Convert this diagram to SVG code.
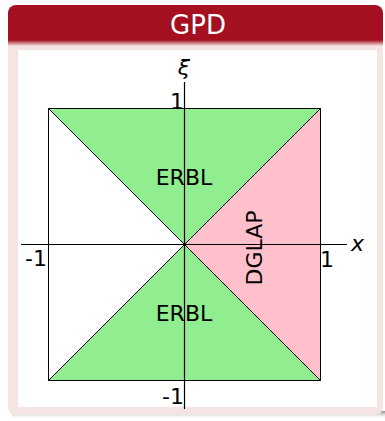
<svg xmlns="http://www.w3.org/2000/svg" width="385" height="421" viewBox="0 0 385 421">
<defs>
<linearGradient id="hdrfade" x1="0" y1="0" x2="0" y2="1">
<stop offset="0" stop-color="#a51020"/>
<stop offset="1" stop-color="#f4e4e4"/>
</linearGradient>
<linearGradient id="shadow" x1="0" y1="0" x2="0" y2="1">
<stop offset="0" stop-color="#888"/>
<stop offset="1" stop-color="#fff" stop-opacity="0"/>
</linearGradient>
</defs>
<style>
text{font-family:"DejaVu Sans","Liberation Sans",sans-serif;fill:#000;}
.lbl{font-size:22px;}
.ax{stroke:#000;stroke-width:1.2;fill:none;}
.edge{stroke:#000;stroke-width:1;}
</style>
<rect width="385" height="421" fill="#fff"/>
<g id="block">
<rect x="12" y="411" width="373" height="8" fill="url(#shadow)"/>
<path d="M8,42 H383 V407 a8,8 0 0 1 -8,8 H16 a8,8 0 0 1 -8,-8 Z" fill="#f4e4e4"/>
<path d="M8,42 V13 a8,8 0 0 1 8,-8 H375 a8,8 0 0 1 8,8 V42 Z" fill="#a51020"/>
<rect x="8" y="40" width="375" height="6" fill="url(#hdrfade)"/>
<text x="198" y="34" font-size="26" style="fill:#fff" text-anchor="middle">GPD</text>
<rect x="18" y="50" width="359" height="357" fill="#fff"/>
</g>
<g id="regions">
<polygon id="erbl-top" points="48.5,108.5 320.5,108.5 184.5,244.5" fill="#90ee90" class="edge"/>
<polygon id="erbl-bottom" points="48.5,380.5 320.5,380.5 184.5,244.5" fill="#90ee90" class="edge"/>
<polygon id="dglap" points="320.5,108.5 320.5,380.5 184.5,244.5" fill="#ffc0cb" class="edge"/>
<polygon id="square" points="48.5,108.5 320.5,108.5 320.5,380.5 48.5,380.5" fill="none" class="edge"/>
</g>
<g id="axes">
<line class="ax" x1="21" y1="244.5" x2="347" y2="244.5"/>
<line class="ax" x1="184.5" y1="82" x2="184.5" y2="409"/>
</g>
<g id="labels">
<text class="lbl" x="184" y="75" text-anchor="middle" font-style="italic" font-size="24">ξ</text>
<text class="lbl" x="184" y="109" text-anchor="end">1</text>
<text class="lbl" x="47" y="266" text-anchor="end">-1</text>
<text class="lbl" x="320" y="267">1</text>
<text class="lbl" x="351" y="251" font-style="italic">x</text>
<text class="lbl" x="184" y="404" text-anchor="end">-1</text>
<text class="lbl" x="184" y="185" text-anchor="middle" font-size="23">ERBL</text>
<text class="lbl" x="184" y="321" text-anchor="middle" font-size="23">ERBL</text>
<text class="lbl" transform="translate(262,248) rotate(-90)" text-anchor="middle" font-size="23">DGLAP</text>
</g>
</svg>
